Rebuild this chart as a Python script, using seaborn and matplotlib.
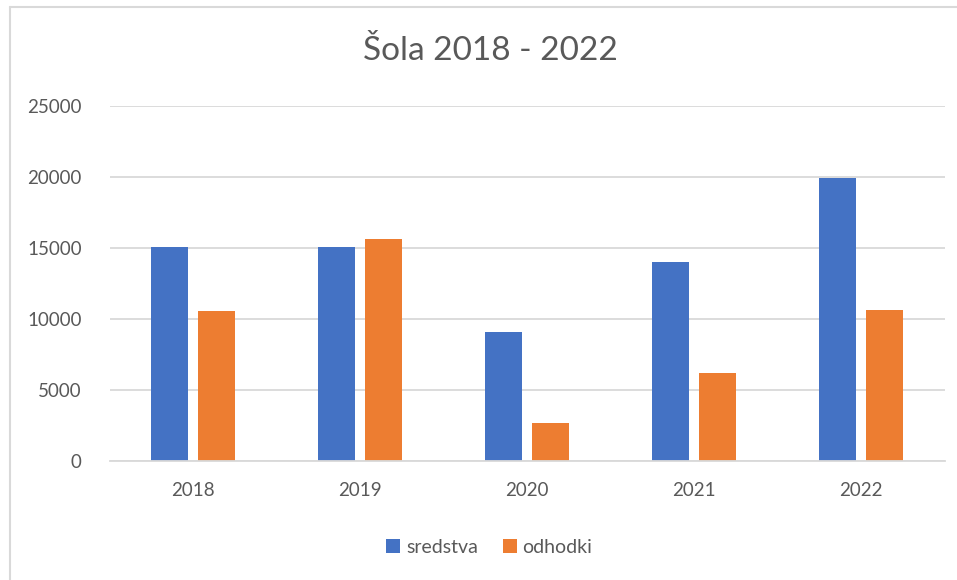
import matplotlib
matplotlib.use("Agg")
import matplotlib.pyplot as plt
import seaborn as sns
import pandas as pd
from matplotlib.lines import Line2D

years = ["2018", "2019", "2020", "2021", "2022"]
sredstva = [15050, 15050, 9100, 14000, 19900]
odhodki = [10550, 15600, 2700, 6200, 10600]
series_names = ["sredstva", "odhodki"]
colors = ["#4472C4", "#ED7D31"]
title = "Šola 2018 - 2022"

df = pd.DataFrame({
    "leto": years * 2,
    "vrednost": sredstva + odhodki,
    "serija": [series_names[0]] * len(years) + [series_names[1]] * len(years),
})

sns.set_theme(style="white")
plt.rcParams["font.family"] = ["Lato", "DejaVu Sans"]

fig = plt.figure(figsize=(9.57, 5.8), dpi=100)
ax = fig.add_axes([109.5 / 957, (580 - 461) / 580, 835 / 957, 355 / 580])

sns.barplot(data=df, x="leto", y="vrednost", hue="serija", palette=colors,
            width=0.565, gap=0.21, ax=ax, legend=True, saturation=1,
            linewidth=0)

ax.set_ylim(0, 25000)
ax.set_xlim(-0.5, 4.5)
ax.set_yticks(range(0, 25001, 5000))
ax.yaxis.grid(True, color="#D9D9D9", linewidth=1.3)
ax.set_axisbelow(True)
for s in ["top", "right", "left"]:
    ax.spines[s].set_visible(False)
ax.spines["bottom"].set_color("#D9D9D9")
ax.spines["bottom"].set_linewidth(1.3)
ax.tick_params(axis="both", length=0, labelsize=13.5, labelcolor="#595959")
ax.tick_params(axis="y", pad=20)
ax.tick_params(axis="x", pad=15)
ax.set_xlabel("")
ax.set_ylabel("")

leg = ax.legend(loc="upper center", bbox_to_anchor=(0.455, -0.17), ncol=2,
                frameon=False, fontsize=14, handlelength=0.7, handleheight=0.7,
                handletextpad=0.3, columnspacing=1.3)
for t in leg.get_texts():
    t.set_color("#595959")

fig.text(0.512, 1 - 51 / 580, title, ha="center", va="center",
         fontsize=24, color="#595959")

# chart border (left and top edges visible)
fig.add_artist(Line2D([10 / 957, 10 / 957], [0, 1 - 7 / 580], color="#D9D9D9",
                      linewidth=1.5, transform=fig.transFigure))
fig.add_artist(Line2D([10 / 957, 1], [1 - 7 / 580, 1 - 7 / 580], color="#D9D9D9",
                      linewidth=1.5, transform=fig.transFigure))

fig.savefig("out.png", dpi=100)
